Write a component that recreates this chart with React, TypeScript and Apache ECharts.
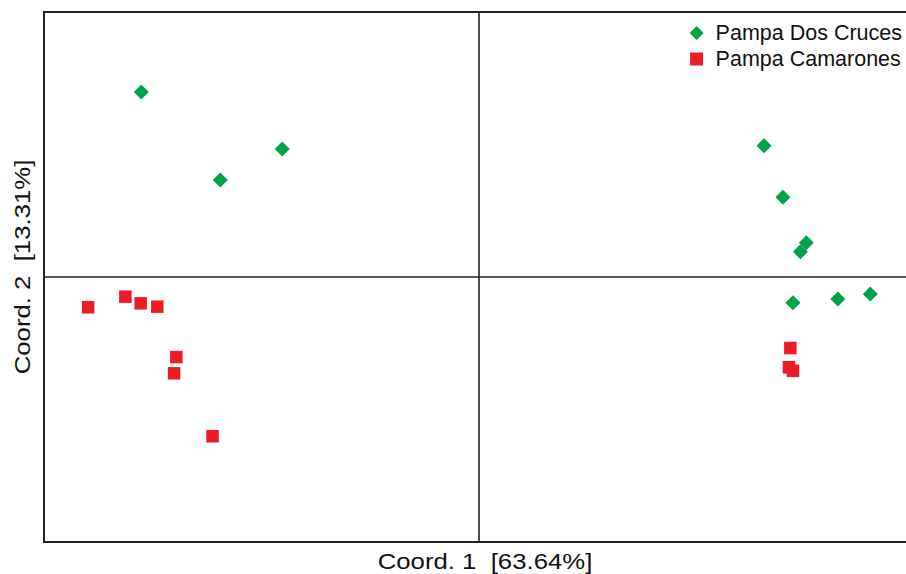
import React, { useEffect, useRef } from "react";
import * as echarts from "echarts";

const seriesNames = ["Pampa Dos Cruces", "Pampa Camarones"];

// Coordinates on axis 1 and axis 2 (PCoA scores)
const dosCrucesX = [-0.3105, -0.2379, -0.1809, 0.2621, 0.2795, 0.301, 0.2955, 0.2887, 0.33, 0.3598];
const dosCrucesY = [0.2094, 0.1098, 0.1449, 0.1486, 0.0902, 0.0388, 0.0286, -0.0291, -0.0249, -0.0192];

const camaronesX = [-0.3594, -0.3252, -0.3111, -0.2958, -0.2783, -0.2804, -0.245, 0.2863, 0.285, 0.2887];
const camaronesY = [-0.0343, -0.0223, -0.0298, -0.0336, -0.0906, -0.109, -0.1803, -0.0804, -0.1022, -0.1061];

const xAxisTitle = "Coord. 1  [63.64%]";
const yAxisTitle = "Coord. 2  [13.31%]";

const GREEN = "#00a14b";
const RED = "#ed1c24";
const FONT = "'Liberation Sans', Arial, Helvetica, sans-serif";

export default function App() {
  const ref = useRef<HTMLDivElement>(null);

  useEffect(() => {
    if (!ref.current) return;
    const chart = echarts.init(ref.current, undefined, { renderer: "svg" });
    const zip = (xs: number[], ys: number[]) => xs.map((x, i) => [x, ys[i]]);

    chart.setOption({
      animation: false,
      backgroundColor: "#ffffff",
      grid: {
        left: 44,
        top: 12,
        width: 870,
        height: 530,
        show: true,
        borderColor: "#222222",
        borderWidth: 2,
        outerBoundsMode: "none",
        containLabel: false,
      },
      xAxis: {
        type: "value",
        min: -0.4,
        max: 0.4,
        axisLine: { show: true, onZero: true, lineStyle: { color: "#222222", width: 1.6 } },
        axisTick: { show: false },
        axisLabel: { show: false },
        splitLine: { show: false },
      },
      yAxis: {
        type: "value",
        min: -0.3,
        max: 0.3,
        axisLine: { show: true, onZero: true, lineStyle: { color: "#222222", width: 1.6 } },
        axisTick: { show: false },
        axisLabel: { show: false },
        splitLine: { show: false },
      },
      legend: {
        orient: "vertical",
        right: 4,
        top: 22,
        padding: 0,
        itemGap: 4,
        itemWidth: 14,
        itemHeight: 14,
        formatter: (name: string) => `{t|${name}}`,
        textStyle: {
          fontSize: 21.5,
          color: "#111111",
          fontFamily: FONT,
          rich: {
            t: { fontSize: 21.5, color: "#111111", fontFamily: FONT, padding: [0, 0, 0, 7] },
          },
        },
        data: [
          { name: seriesNames[0], icon: "diamond" },
          { name: seriesNames[1], icon: "rect", itemStyle: { borderColor: "#ffffff", borderWidth: 1 } },
        ],
      },
      series: [
        {
          name: seriesNames[0],
          type: "scatter",
          symbol: "diamond",
          symbolSize: 15,
          itemStyle: { color: GREEN, opacity: 1 },
          data: zip(dosCrucesX, dosCrucesY),
        },
        {
          name: seriesNames[1],
          type: "scatter",
          symbol: "rect",
          symbolSize: 12.5,
          itemStyle: { color: RED, opacity: 1 },
          data: zip(camaronesX, camaronesY),
        },
      ],
      graphic: [
        {
          type: "text",
          x: 485,
          y: 561,
          scaleX: 1.17,
          style: {
            text: xAxisTitle,
            fontSize: 22,
            fontFamily: FONT,
            fill: "#111111",
            align: "center",
            verticalAlign: "middle",
          },
        },
        {
          type: "text",
          x: 22,
          y: 267,
          rotation: Math.PI / 2,
          scaleX: 1.17,
          style: {
            text: yAxisTitle,
            fontSize: 22,
            fontFamily: FONT,
            fill: "#111111",
            align: "center",
            verticalAlign: "middle",
          },
        },
      ],
    });

    return () => chart.dispose();
  }, []);

  return (
    <div
      ref={ref}
      style={{ position: "absolute", left: 0, top: 0, width: 906, height: 574 }}
    />
  );
}
